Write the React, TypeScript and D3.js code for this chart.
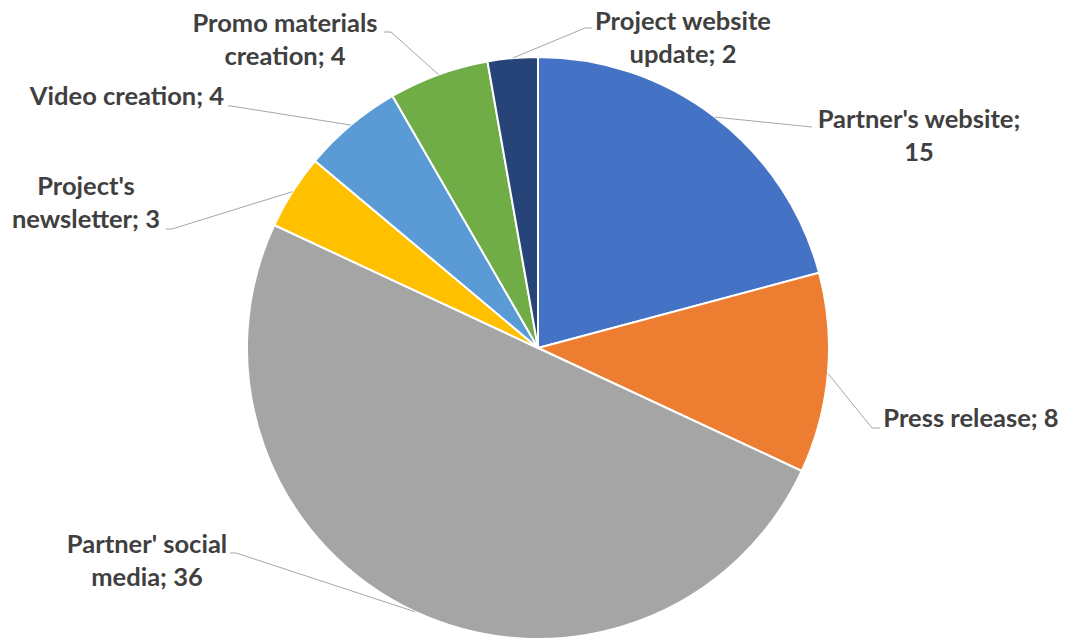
import React from "react";
import * as d3 from "d3";

const categories = [
  "Partner's website",
  "Press release",
  "Partner' social media",
  "Project's newsletter",
  "Video creation",
  "Promo materials creation",
  "Project website update",
];
const values = [15, 8, 36, 3, 4, 4, 2];
const colors = ["#4472C4", "#ED7D31", "#A5A5A5", "#FFC000", "#5B9BD5", "#70AD47", "#264478"];

// label line breaks (text) per category
const labelLines = [
  ["Partner's website;", "15"],
  ["Press release; 8"],
  ["Partner' social", "media; 36"],
  ["Project's", "newsletter; 3"],
  ["Video creation; 4"],
  ["Promo materials", "creation; 4"],
  ["Project website", "update; 2"],
];

// layout of labels: text center x, first baseline y, leader elbow + end near label
const labelLayout = [
  { cx: 919, by: 128, elbow: [812, 127], tip: [812, 127] },
  { cx: 971, by: 427, elbow: [872, 428], tip: [880, 428] },
  { cx: 147, by: 553, elbow: [236, 553], tip: [230, 553] },
  { cx: 86, by: 195, elbow: [172, 229], tip: [166, 229] },
  { cx: 127, by: 105, elbow: [231, 106], tip: [228, 106] },
  { cx: 285, by: 32, elbow: [391, 32], tip: [384, 32] },
  { cx: 683, by: 30, elbow: [585, 28], tip: [592, 28] },
];

const W = 1066;
const H = 639;
const CX = 538;
const CY = 348;
const R = 291;
const LINE_H = 33;

export default function App() {
  const pie = d3
    .pie<number>()
    .sort(null)
    .value((d) => d)
    .startAngle(0)
    .endAngle(2 * Math.PI);
  const arcs = pie(values);
  const arc = d3.arc<d3.PieArcDatum<number>>().innerRadius(0).outerRadius(R);

  return (
    <svg
      width={W}
      height={H}
      style={{ position: "absolute", left: 0, top: 0, background: "#fff" }}
    >
      <g transform={`translate(${CX},${CY})`}>
        {arcs.map((a, i) => (
          <path key={i} d={arc(a) || ""} fill={colors[i]} stroke="#fff" strokeWidth={2} strokeLinejoin="round" />
        ))}
      </g>
      {arcs.map((a, i) => {
        const mid = (a.startAngle + a.endAngle) / 2;
        const ex = CX + R * Math.sin(mid);
        const ey = CY - R * Math.cos(mid);
        const L = labelLayout[i];
        const path = d3.path();
        path.moveTo(ex, ey);
        path.lineTo(L.elbow[0], L.elbow[1]);
        path.lineTo(L.tip[0], L.tip[1]);
        return <path key={"l" + i} d={path.toString()} fill="none" stroke="#A6A6A6" strokeWidth={1} />;
      })}
      {labelLines.map((lines, i) => {
        const L = labelLayout[i];
        return (
          <text
            key={"t" + i}
            textAnchor="middle"
            fontFamily="Lato, 'Open Sans', sans-serif"
            fontWeight="bold"
            fontSize={25.5}
            fill="#404040"
          >
            {lines.map((ln, j) => (
              <tspan key={j} x={L.cx} y={L.by + j * LINE_H}>
                {ln}
              </tspan>
            ))}
          </text>
        );
      })}
    </svg>
  );
}
